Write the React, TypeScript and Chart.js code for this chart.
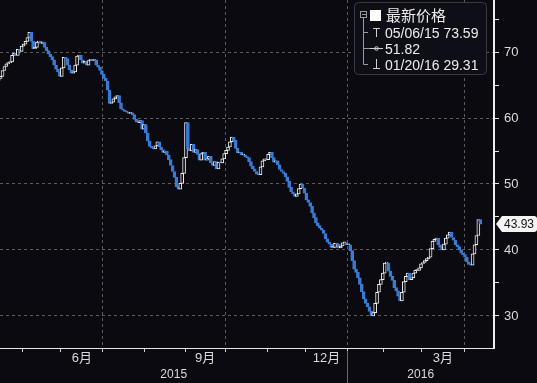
import React, { useEffect, useRef } from "react";
import { Chart, registerables } from "chart.js";

Chart.register(...registerables);

// ---------- data ----------
const HOLIDAYS = [
  "2015-05-25", "2015-07-03", "2015-09-07", "2015-11-26", "2015-12-25",
  "2016-01-01", "2016-01-18", "2016-02-15", "2016-03-25",
];
const FIRST_OPEN = 65.7;
// daily closes, Apr 14 2015 .. Apr 13 2016 (trading days)
const CLOSES = [
  66.0, 66.3, 67.2, 67.8, 68.2, 68.4, 68.5, 69.5, 69.8, 69.5,
  70.4, 70.1, 70.9, 71.2, 71.6, 72.2, 73.0, 71.6, 70.5, 70.7,
  71.5, 71.6, 71.3, 71.5, 70.7, 70.2, 69.7, 69.3, 68.8, 68.0,
  67.4, 67.0, 66.3, 67.6, 69.2, 69.0, 68.0, 67.3, 66.8, 67.0,
  68.0, 69.4, 69.5, 68.8, 68.3, 68.6, 68.0, 68.7, 68.9, 68.7,
  68.8, 68.0, 67.7, 67.2, 66.6, 66.0, 65.6, 64.2, 62.2, 62.4,
  62.9, 63.2, 63.4, 62.3, 61.4, 61.2, 61.0, 60.9, 60.7, 60.8,
  60.5, 59.8, 59.4, 59.3, 59.6, 58.3, 59.0, 57.7, 56.5, 55.7,
  55.5, 55.3, 55.8, 56.4, 55.6, 55.2, 54.8, 55.0, 54.4, 53.7,
  52.8, 51.9, 51.0, 49.6, 49.2, 50.1, 51.6, 54.0, 59.3, 55.4,
  55.0, 56.0, 54.8, 55.2, 54.5, 53.6, 54.6, 54.8, 53.6, 53.8,
  54.2, 53.2, 52.8, 53.4, 52.3, 53.3, 53.2, 53.8, 54.6, 55.1,
  55.6, 56.4, 57.1, 56.6, 55.4, 54.7, 54.8, 54.4, 54.4, 54.1,
  54.0, 53.4, 52.7, 52.3, 51.9, 51.5, 51.4, 52.6, 53.5, 53.8,
  53.7, 54.5, 54.8, 54.0, 53.3, 53.5, 52.9, 52.2, 51.9, 51.6,
  51.1, 50.4, 49.5, 48.8, 48.5, 48.1, 48.5, 49.3, 50.0, 49.4,
  48.6, 47.6, 47.2, 46.6, 45.6, 44.9, 44.1, 43.7, 43.3, 43.0,
  42.5, 41.7, 41.2, 40.9, 40.4, 40.4, 41.0, 40.9, 40.3, 40.6,
  41.1, 41.1, 40.8, 40.8, 39.9, 38.4, 37.1, 36.6, 35.8, 34.8,
  33.7, 32.6, 31.9, 31.4, 30.7, 30.0, 30.5, 31.9, 33.6, 34.8,
  35.5, 36.5, 38.0, 38.0, 36.8, 36.0, 35.4, 34.3, 33.8, 33.0,
  32.3, 33.6, 35.2, 36.0, 36.5, 35.5, 35.8, 36.5, 36.9, 36.9,
  37.3, 37.9, 38.1, 38.4, 38.7, 38.9, 40.2, 41.3, 41.6, 41.8,
  40.8, 40.4, 40.0, 40.9, 41.8, 42.3, 42.7, 41.9, 41.5, 40.8,
  40.5, 40.0, 39.5, 39.3, 38.9, 38.2, 37.8, 37.7, 39.4, 40.8,
  42.2, 44.6, 43.93,
];
const LABELED_MONTHS = [6, 9, 12, 3];
const QUARTER_MONTHS = [7, 10, 1, 4];
const YEAR_LABELS = ["2015", "2016"];
const Y_TICKS = [30, 35, 40, 45, 50, 55, 60, 65, 70, 75];
const Y_LABELED = [30, 40, 50, 60, 70];
const Y_MIN = 25.15;
const Y_MAX = 77.88;
const X_MIN = 0.67;
const X_MAX = 259.2;
const LEGEND_TITLE = "最新价格";
const LEGEND_HIGH = "05/06/15 73.59";
const LEGEND_AVG = "51.82";
const LEGEND_LOW = "01/20/16 29.31";

// ---------- styles ----------
const BG = "#0a0a10";
const BLUE = "#3a7bd5";
const UP_EDGE = "#f0f0f0";
const GRID = "#5c5c5c";
const TXT = "#dcdcdc";
const FONT = "'Liberation Sans', Arial, 'Noto Sans CJK SC', sans-serif";
const CJK = "'Noto Sans CJK SC', 'Liberation Sans', sans-serif";

function buildDates(n: number) {
  const out: { y: number; m: number }[] = [];
  const d = new Date(Date.UTC(2015, 3, 14));
  while (out.length < n) {
    const dow = d.getUTCDay();
    const iso = d.toISOString().slice(0, 10);
    if (dow !== 0 && dow !== 6 && !HOLIDAYS.includes(iso)) {
      out.push({ y: d.getUTCFullYear(), m: d.getUTCMonth() + 1 });
    }
    d.setUTCDate(d.getUTCDate() + 1);
  }
  return out;
}

function zeroPad(s: any) {
  s.paddingTop = 0;
  s.paddingBottom = 0;
  s.paddingLeft = 0;
  s.paddingRight = 0;
}

export default function App() {
  const ref = useRef<HTMLCanvasElement | null>(null);

  useEffect(() => {
    document.body.style.margin = "0";
    document.body.style.background = BG;
    const canvas = ref.current;
    if (!canvas) return;

    const dates = buildDates(CLOSES.length);
    const segs: { m: number; start: number; end: number }[] = [];
    dates.forEach((d, i) => {
      if (i === 0 || d.m !== dates[i - 1].m) segs.push({ m: d.m, start: i, end: i + 1 });
      else segs[segs.length - 1].end = i + 1;
    });
    type XT = { value: number; label: string; boundary: boolean; quarter: boolean };
    const xTicks: XT[] = [];
    segs.forEach((s, k) => {
      if (k > 0) xTicks.push({ value: s.start - 0.5, label: "", boundary: true, quarter: QUARTER_MONTHS.includes(s.m) });
      if (LABELED_MONTHS.includes(s.m) && s.end - s.start > 5) {
        xTicks.push({ value: (s.start + s.end - 1) / 2, label: `${s.m}月`, boundary: false, quarter: false });
      }
    });
    xTicks.sort((a, b) => a.value - b.value);
    const janSeg = segs.find((s, k) => k > 0 && s.m === 1)!;
    const janB = janSeg.start - 0.5;
    const yearTicks = [
      { value: (X_MIN + janB) / 2, label: YEAR_LABELS[0] },
      { value: (janB + X_MAX) / 2, label: YEAR_LABELS[1] },
    ];

    const openOf = (i: number) => (i === 0 ? FIRST_OPEN : CLOSES[i - 1]);
    const isUp = (i: number) => CLOSES[i] >= openOf(i);
    const candles = CLOSES.map((c, i) => ({ x: i, y: [openOf(i), c] }));

    const bgPlugin = {
      id: "bg",
      beforeDraw(chart: any) {
        const { ctx, width, height } = chart;
        ctx.save();
        ctx.fillStyle = BG;
        ctx.fillRect(0, 0, width, height);
        ctx.restore();
      },
    };

    const overlay = {
      id: "overlay",
      afterDraw(chart: any) {
        const { ctx, chartArea } = chart;
        const xs = chart.scales.x;
        const ys = chart.scales.y;
        ctx.save();
        // year divider
        const dx = Math.round(xs.getPixelForValue(janB)) + 0.5;
        ctx.strokeStyle = "#6a6a6a";
        ctx.lineWidth = 1;
        ctx.beginPath();
        ctx.moveTo(dx, chartArea.bottom + 3);
        ctx.lineTo(dx, chart.height);
        ctx.stroke();

        // last price label
        const last = CLOSES[CLOSES.length - 1];
        const py = Math.round(ys.getPixelForValue(last));
        const lx = chartArea.right + 2;
        ctx.fillStyle = "#f4f4f4";
        ctx.beginPath();
        ctx.moveTo(lx, py);
        ctx.lineTo(lx + 6, py - 8);
        ctx.lineTo(lx + 38, py - 8);
        ctx.quadraticCurveTo(lx + 41, py - 8, lx + 41, py - 5);
        ctx.lineTo(lx + 41, py + 5);
        ctx.quadraticCurveTo(lx + 41, py + 8, lx + 38, py + 8);
        ctx.lineTo(lx + 6, py + 8);
        ctx.closePath();
        ctx.fill();
        ctx.fillStyle = "#111";
        ctx.font = `12px ${FONT}`;
        ctx.textAlign = "center";
        ctx.textBaseline = "middle";
        ctx.fillText(last.toFixed(2), lx + 23, py + 1);

        // legend box
        const bx = 354.5, by = 2.5, bw = 132, bh = 72, r = 4;
        ctx.beginPath();
        ctx.moveTo(bx + r, by);
        ctx.lineTo(bx + bw - r, by);
        ctx.quadraticCurveTo(bx + bw, by, bx + bw, by + r);
        ctx.lineTo(bx + bw, by + bh - r);
        ctx.quadraticCurveTo(bx + bw, by + bh, bx + bw - r, by + bh);
        ctx.lineTo(bx + r, by + bh);
        ctx.quadraticCurveTo(bx, by + bh, bx, by + bh - r);
        ctx.lineTo(bx, by + r);
        ctx.quadraticCurveTo(bx, by, bx + r, by);
        ctx.closePath();
        ctx.fillStyle = "#0e0e16";
        ctx.fill();
        ctx.strokeStyle = "#3a3a44";
        ctx.stroke();

        // tree
        ctx.strokeStyle = "#9a9a9a";
        ctx.lineWidth = 1;
        ctx.strokeRect(360.5, 11.5, 6, 6);
        ctx.beginPath();
        ctx.moveTo(362, 14.5); ctx.lineTo(366, 14.5);
        ctx.moveTo(363.5, 18); ctx.lineTo(363.5, 64.5); ctx.lineTo(368, 64.5);
        ctx.moveTo(363.5, 32.5); ctx.lineTo(368, 32.5);
        ctx.moveTo(363.5, 48.5); ctx.lineTo(370, 48.5);
        ctx.stroke();
        // icons
        ctx.strokeStyle = "#d0d0d0";
        ctx.beginPath();
        ctx.moveTo(373, 28.5); ctx.lineTo(380, 28.5);
        ctx.moveTo(376.5, 28.5); ctx.lineTo(376.5, 37);
        ctx.moveTo(370, 48.5); ctx.lineTo(383, 48.5);
        ctx.moveTo(376.5, 59); ctx.lineTo(376.5, 68.5);
        ctx.moveTo(373, 68.5); ctx.lineTo(380, 68.5);
        ctx.stroke();
        ctx.beginPath();
        ctx.arc(376.5, 48.5, 1.8, 0, Math.PI * 2);
        ctx.stroke();
        ctx.fillStyle = "#ffffff";
        ctx.fillRect(370, 10, 11, 11);

        ctx.textAlign = "left";
        ctx.textBaseline = "alphabetic";
        ctx.fillStyle = "#ececec";
        ctx.font = `15px ${CJK}`;
        ctx.fillText(LEGEND_TITLE, 386, 21);
        ctx.font = `14px ${FONT}`;
        ctx.fillText(LEGEND_HIGH, 385, 38);
        ctx.fillText(LEGEND_AVG, 385, 54);
        ctx.fillText(LEGEND_LOW, 385, 70);
        ctx.restore();
      },
    };

    const chart = new Chart(canvas, {
      type: "bar",
      data: {
        datasets: [
          {
            data: candles as any,
            backgroundColor: (c: any) => (isUp(c.dataIndex) ? BG : BLUE),
            borderColor: (c: any) => (isUp(c.dataIndex) ? UP_EDGE : BLUE),
            borderWidth: 1,
            borderSkipped: false,
            barThickness: 3,
            minBarLength: 1,
          },
        ],
      },
      options: {
        animation: false,
        responsive: true,
        maintainAspectRatio: false,
        events: [],
        layout: { padding: 0 },
        plugins: { legend: { display: false }, tooltip: { enabled: false } },
        scales: {
          x: {
            type: "linear",
            position: "bottom",
            min: X_MIN,
            max: X_MAX,
            offset: false,
            afterBuildTicks: (s: any) => {
              s.ticks = xTicks.map((t) => ({ value: t.value }));
            },
            afterFit: (s: any) => {
              s.height = 18;
              zeroPad(s);
            },
            ticks: {
              autoSkip: false,
              maxRotation: 0,
              minRotation: 0,
              padding: 0,
              color: TXT,
              font: { family: FONT, size: 13, lineHeight: 1 },
              callback: (_v: any, i: number) => xTicks[i]?.label ?? "",
            },
            grid: {
              offset: false,
              drawOnChartArea: true,
              tickLength: 4,
              color: (c: any) => (xTicks[c.index]?.quarter ? GRID : "rgba(0,0,0,0)"),
              tickColor: (c: any) => (xTicks[c.index]?.boundary ? "#cfcfcf" : "rgba(0,0,0,0)"),
            },
            border: { display: true, color: "#e6e6e6", width: 1, dash: [3, 3] },
          },
          x2: {
            type: "linear",
            position: "bottom",
            min: X_MIN,
            max: X_MAX,
            offset: false,
            afterBuildTicks: (s: any) => {
              s.ticks = yearTicks.map((t) => ({ value: t.value }));
            },
            afterFit: (s: any) => {
              s.height = 17;
              zeroPad(s);
            },
            ticks: {
              autoSkip: false,
              maxRotation: 0,
              minRotation: 0,
              padding: 3,
              color: TXT,
              font: { family: FONT, size: 12, lineHeight: 1 },
              callback: (_v: any, i: number) => yearTicks[i]?.label ?? "",
            },
            grid: { display: false, drawOnChartArea: false, drawTicks: false },
            border: { display: false },
          },
          y: {
            type: "linear",
            position: "right",
            min: Y_MIN,
            max: Y_MAX,
            beginAtZero: false,
            afterBuildTicks: (s: any) => {
              s.ticks = Y_TICKS.map((v) => ({ value: v }));
            },
            afterFit: (s: any) => {
              s.width = 43;
              zeroPad(s);
            },
            ticks: {
              padding: 5,
              color: TXT,
              font: { family: FONT, size: 13 },
              callback: (v: any) => (Y_LABELED.includes(v) ? String(v) : ""),
            },
            grid: {
              tickLength: 5,
              color: (c: any) => (Y_LABELED.includes(c.tick?.value) ? GRID : "rgba(0,0,0,0)"),
              tickColor: "#e0e0e0",
            },
            border: { display: true, color: "#eeeeee", width: 2, dash: [3, 3] },
          },
        },
      },
      plugins: [bgPlugin, overlay],
    } as any);

    return () => chart.destroy();
  }, []);

  return (
    <div style={{ position: "relative", width: 537, height: 383, background: BG }}>
      <canvas ref={ref} />
    </div>
  );
}
